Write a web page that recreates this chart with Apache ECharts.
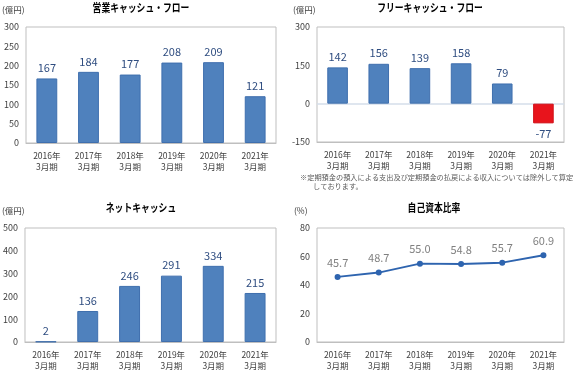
<!DOCTYPE html>
<html><head><meta charset="utf-8">
<script src="https://cdn.jsdelivr.net/npm/echarts@6/dist/echarts.min.js"></script>
<style>html,body{margin:0;padding:0;background:#fff}#c{width:578px;height:371px}</style>
</head><body><div id="c"></div>
<script>
var categories = ['2016年\n3月期','2017年\n3月期','2018年\n3月期','2019年\n3月期','2020年\n3月期','2021年\n3月期'];
var operatingCF = [167, 184, 177, 208, 209, 121];
var freeCF = [142, 156, 139, 158, 79, -77];
var netCash = [2, 136, 246, 291, 334, 215];
var equityRatio = [45.7, 48.7, 55.0, 54.8, 55.7, 60.9];
var titles = ['営業キャッシュ・フロー','フリーキャッシュ・フロー','ネットキャッシュ','自己資本比率'];
var note1 = '※定期預金の預入による支出及び定期預金の払戻による収入については除外して算定';
var note2 = 'しております。';

var FONT = '"Noto Sans CJK JP", "Noto Sans", sans-serif';
var BAR = '#4F81BD', BAR_EDGE = '#3F6FAE', LBL = '#2F4D80';
var grids = [
  {left:26, top:27, width:250, height:116},
  {left:317, top:27, width:247, height:115},
  {left:22, top:228, width:254, height:114},
  {left:317, top:228, width:247, height:114}
];
grids.forEach(function(g){ g.show = true; g.borderColor = '#BFBFBF'; g.borderWidth = 1; });

function xAx(i){
  return {type:'category', gridIndex:i, data:categories,
    axisLine:{show:true, onZero:false, lineStyle:{color:'#BFBFBF'}},
    axisTick:{show:false},
    axisLabel:{fontFamily:FONT, fontSize:8.5, lineHeight:11, color:'#404040', margin:7, interval:0}};
}
function yAx(i, min, max, itv){
  return {type:'value', gridIndex:i, min:min, max:max, interval:itv,
    splitLine:{show:false}, axisLine:{show:false}, axisTick:{show:false},
    axisLabel:{fontFamily:FONT, fontSize:9, color:'#404040', margin:7}};
}
function barLabel(){
  return {show:true, position:'top', distance:5, fontFamily:FONT, fontSize:11, color:LBL};
}
function titleText(t, x, y){
  return {type:'text', x:x, y:y, scaleX:0.8, silent:true,
    style:{text:t, font:'bold 11px '+FONT, fill:'#000', align:'center', verticalAlign:'middle'}};
}

var option = {
  animation:false,
  textStyle:{fontFamily:FONT},
  graphic:[
    titleText(titles[0], 141, 8),
    titleText(titles[1], 430, 8),
    titleText(titles[2], 141, 208),
    titleText(titles[3], 434, 208),
    {type:'text', left:2, top:6, style:{text:'(億円)', font:'8.5px '+FONT, fill:'#404040'}},
    {type:'text', left:293, top:6, style:{text:'(億円)', font:'8.5px '+FONT, fill:'#404040'}},
    {type:'text', left:2, top:207, style:{text:'(億円)', font:'8.5px '+FONT, fill:'#404040'}},
    {type:'text', left:294, top:207, style:{text:'(%)', font:'8.5px '+FONT, fill:'#404040'}},
    {type:'text', left:300, top:174, style:{text:note1, font:'7.2px '+FONT, fill:'#595959'}},
    {type:'text', left:313, top:183, style:{text:note2, font:'7.2px '+FONT, fill:'#595959'}}
  ],
  grid: grids,
  xAxis:[xAx(0), xAx(1), xAx(2), xAx(3)],
  yAxis:[yAx(0,0,300,50), yAx(1,-150,300,150), yAx(2,0,500,100), yAx(3,0,80,20)],
  series:[
    {type:'bar', xAxisIndex:0, yAxisIndex:0, data:operatingCF, barWidth:'50%',
      itemStyle:{color:BAR, borderColor:BAR_EDGE, borderWidth:1}, label:barLabel()},
    {type:'bar', xAxisIndex:1, yAxisIndex:1, barWidth:'50%',
      data: freeCF.map(function(v){
        return v < 0 ? {value:v, itemStyle:{color:'#E8141C', borderColor:'#D01018'}, label:{position:'bottom'}} : v;
      }),
      itemStyle:{color:BAR, borderColor:BAR_EDGE, borderWidth:1}, label:barLabel(),
      markLine:{silent:true, symbol:'none', label:{show:false}, z:1,
        lineStyle:{color:'#D5DEEA', width:1.5, type:'solid'}, data:[{yAxis:0}]}},
    {type:'bar', xAxisIndex:2, yAxisIndex:2, data:netCash, barWidth:'50%',
      itemStyle:{color:BAR, borderColor:BAR_EDGE, borderWidth:1}, label:barLabel()},
    {type:'line', xAxisIndex:3, yAxisIndex:3, data:equityRatio,
      lineStyle:{color:'#2E64AF', width:2}, itemStyle:{color:'#2E64AF'},
      symbol:'circle', symbolSize:6,
      label:{show:true, position:'top', distance:6, fontFamily:FONT, fontSize:11, color:'#808080',
        formatter:function(p){return p.value.toFixed(1);}}}
  ]
};
echarts.init(document.getElementById('c')).setOption(option);
</script>
</body></html>
